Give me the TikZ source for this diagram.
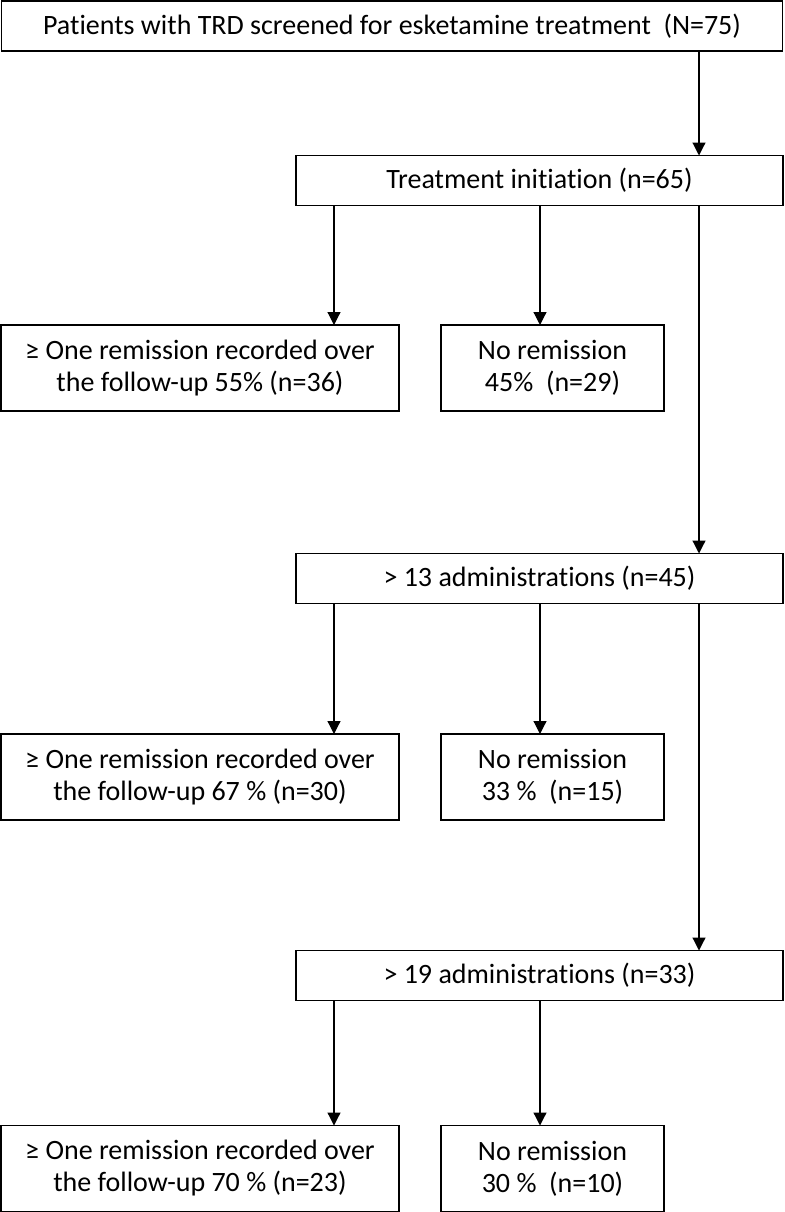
\documentclass[tikz,border=0pt]{standalone}
\usepackage{fontspec}
\setmainfont{Carlito}[Ligatures=CommonOff]
\usetikzlibrary{arrows.meta}
\begin{document}
\begin{tikzpicture}[
  x=1pt,y=-1pt,
  every node/.style={font=\fontsize{28}{32}\selectfont},
  flowbox/.style={draw,line width=1.4pt,inner sep=0pt,outer sep=0pt,
                  align=center,minimum height=50pt},
  resbox/.style={flowbox,minimum height=86pt},
  arr/.style={-{Triangle[length=13pt,width=13pt]},line width=1.2pt},
]
  \useasboundingbox (0,0) rectangle (784,1212);

  % screening
  \node[flowbox,minimum width=781pt] (screen) at (392,26)
    {Patients with TRD screened for esketamine treatment~ (N=75)};

  % initiation
  \node[flowbox,minimum width=487pt] (init) at (539.5,180.5)
    {Treatment initiation (n=65)};
  \node[resbox,minimum width=398pt] (remA) at (200,368)
    {≥ One remission recorded over\\the follow-up 55\% (n=36)};
  \node[resbox,minimum width=223pt] (noremA) at (552.5,368)
    {No remission\\45\%~ (n=29)};

  % > 13 administrations
  \node[flowbox,minimum width=487pt] (admA) at (539.5,578.5)
    {> 13 administrations (n=45)};
  \node[resbox,minimum width=398pt] (remB) at (200,777)
    {≥ One remission recorded over\\the follow-up 67 \% (n=30)};
  \node[resbox,minimum width=223pt] (noremB) at (552.5,777)
    {No remission\\33 \%~ (n=15)};

  % > 19 administrations
  \node[flowbox,minimum width=487pt] (admB) at (539.5,975.5)
    {> 19 administrations (n=33)};
  \node[resbox,minimum width=398pt] (remC) at (200,1168.5)
    {≥ One remission recorded over\\the follow-up 70 \% (n=23)};
  \node[resbox,minimum width=223pt] (noremC) at (552.5,1168.5)
    {No remission\\30 \%~ (n=10)};

  % arrow columns
  \coordinate (colA) at (334,0);
  \coordinate (colB) at (540,0);
  \coordinate (colC) at (699,0);

  % Arrows
  \draw[arr] (screen.south -| colC) -- (init.north -| colC);
  \draw[arr] (init.south -| colA) -- (remA.north -| colA);
  \draw[arr] (init.south -| colB) -- (noremA.north -| colB);
  \draw[arr] (init.south -| colC) -- (admA.north -| colC);
  \draw[arr] (admA.south -| colA) -- (remB.north -| colA);
  \draw[arr] (admA.south -| colB) -- (noremB.north -| colB);
  \draw[arr] (admA.south -| colC) -- (admB.north -| colC);
  \draw[arr] (admB.south -| colA) -- (remC.north -| colA);
  \draw[arr] (admB.south -| colB) -- (noremC.north -| colB);
\end{tikzpicture}
\end{document}
